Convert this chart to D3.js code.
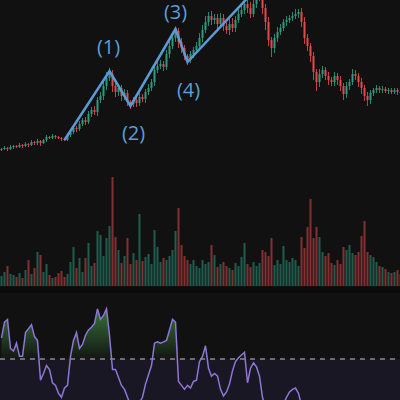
<!DOCTYPE html>
<html>
<head>
<meta charset="utf-8">
<script src="https://cdn.jsdelivr.net/npm/d3@7"></script>
<style>
  html, body { margin: 0; padding: 0; background: #121212; }
  #chart { width: 400px; height: 400px; }
</style>
</head>
<body>
<div id="chart"></div>
<script>
// closing prices, one per candle
const closes = [11,12,11,13,14,13,15,14,16,15, 18,17,19,17,20,23,22,24,23,22,
  21,20,25,28,32,31,36,40,38,46, 50,48,60,64,74,82,86,74,68,72,
  64,67,58,56,60,57,63,61,68,72, 78,90,94,96,93,106,114,122,129,118,
  112,104,100,106,110,114,122,130,138,144, 140,142,136,142,134,130,136,132,140,146,
  150,156,152,146,156,162,164,152,138,120, 112,122,128,132,138,140,142,144,146,148,
  138,122,114,104,88,78,86,90,84,80, 78,84,80,74,66,74,78,86,84,78,
  72,64,60,67,70,72,70,71,69,70, 68,70,68,67];

// upper / lower wick lengths
const wickUp = [1,2,1,2,1,1,2,1,2,1, 2,1,2,1,1,2,1,2,1,1, 1,1,2,2,3,2,3,2,3,3,
  3,4,3,4,5,6,6,4,3,4, 3,4,3,2,3,3,4,3,3,4, 3,5,4,4,3,4,5,6,4,3,
  4,3,2,3,3,4,5,5,6,4, 5,4,4,5,4,4,5,6,4,5, 6,4,5,6,5,3,4,3,4,5,
  3,4,5,4,3,4,3,4,5,3, 4,5,4,3,4,3,5,4,3,4, 3,4,3,4,3,4,3,5,4,3,
  4,3,4,3,2,3,2,3,2,2, 2,2,2,2];
const wickDn = [1,1,2,1,2,1,1,2,1,2, 1,2,2,3,1,2,1,1,2,1, 2,1,1,2,2,3,2,2,3,2,
  3,3,4,3,4,4,3,6,5,4, 5,4,4,5,3,4,3,3,4,3, 3,4,3,3,4,3,4,3,4,6,
  5,4,5,3,4,3,3,4,3,4, 5,4,5,4,5,4,5,4,4,3, 3,4,5,4,3,4,3,6,8,6,
  9,5,4,3,3,4,3,3,3,4, 5,6,5,6,8,9,5,4,4,5, 4,4,5,5,6,4,4,3,4,5,
  6,5,6,4,3,3,3,3,2,3, 2,2,3,2];

const volumes = [10,14,20,12,11,9,13,8,16,26, 12,18,34,31,14,22,11,8,9,13,
  15,9,12,24,39,18,28,14,28,43, 20,23,55,51,30,48,60,109,49,36,
  23,30,48,22,33,26,72,25,29,32, 22,56,39,24,28,26,30,36,55,78,
  41,30,26,22,26,20,18,26,22,24, 41,31,19,22,24,20,18,16,23,20,
  29,43,22,19,24,20,23,36,34,30, 48,21,26,22,40,26,24,28,26,20,
  49,38,59,87,48,59,49,34,30,33, 23,21,26,22,39,36,41,33,31,34,
  50,65,34,31,29,24,20,19,17,14, 13,14,16,12];

const rsi = [66,78,80,58,56,62,52,52,70,73, 76,67,64,34,39,45,42,32,30,24,
  21,28,30,52,64,70,58,61,68,72, 74,77,88,80,83,88,68,42,42,36,
  30,27,21,15,15,16,17,21,31,38, 45,62,63,62,63,64,72,80,78,33,
  30,27,30,28,33,34,48,52,60,43, 37,39,37,27,22,25,31,41,48,51,
  53,55,32,43,47,44,37,21,12,10, 11,12,14,15,16,21,25,27,28,24,
  15,12,10,8,6,5,8,10,12,14, 13,15,16,14,12,10,12,14,15,14,
  13,12,11,10,11,12,13,12,13,14, 13,12,13,14];
const rsiMid = 50;

// elliott wave pivots: candle index and price
const wavePoints = [
  {i: 21, p: 20, label: null},
  {i: 36, p: 89, label: "(1)"},
  {i: 43, p: 54, label: "(2)"},
  {i: 58, p: 131, label: "(3)"},
  {i: 62, p: 98, label: "(4)"},
  {i: 82, p: 162, label: null}
];

class WaveChartD3 {
    width = 400;
    height = 400;
    up = "#2a9d80";
    down = "#e4494c";

    constructor(el) {
        this.el = el;
    }

    create() {
        this.svg = d3.select(this.el).append("svg")
            .attr("width", this.width)
            .attr("height", this.height);

        this.svg.append("rect")
            .attr("width", this.width).attr("height", this.height)
            .attr("fill", "#111111");

        this.x = d3.scaleLinear().domain([-0.5, closes.length - 0.5]).range([0, closes.length * 3]);
        this.yPrice = d3.scaleLinear().domain([0, 160]).range([160, 0]);
        this.yVol = d3.scaleLinear().domain([0, 120]).range([286, 166]);
        this.yRsi = d3.scaleLinear().domain([0, 100]).range([425, 293]);
    }

    render() {
        const candles = closes.map((c, i) => {
            const o = i === 0 ? c - 1 : closes[i - 1];
            return {
                i: i, o: o, c: c,
                h: Math.max(o, c) + wickUp[i],
                l: Math.min(o, c) - wickDn[i],
                v: volumes[i],
                r: rsi[i]
            };
        });
        const col = d => d.c >= d.o ? this.up : this.down;

        // volume panel
        this.svg.append("rect")
            .attr("x", 0).attr("y", 287).attr("width", 400).attr("height", 6)
            .attr("fill", "#0b0b0b");

        this.svg.append("g").selectAll("rect")
            .data(candles)
            .join("rect")
            .attr("x", d => this.x(d.i) - 1)
            .attr("width", 2)
            .attr("y", d => this.yVol(d.v))
            .attr("height", d => this.yVol(0) - this.yVol(d.v))
            .attr("fill", col)
            .attr("opacity", 0.55);

        // candles
        const cg = this.svg.append("g").selectAll("g")
            .data(candles)
            .join("g");

        cg.append("line")
            .attr("x1", d => this.x(d.i)).attr("x2", d => this.x(d.i))
            .attr("y1", d => this.yPrice(d.h)).attr("y2", d => this.yPrice(d.l))
            .attr("stroke", col)
            .attr("stroke-width", 1)
            .attr("opacity", 0.85);

        cg.append("rect")
            .attr("x", d => this.x(d.i) - 1)
            .attr("width", 2)
            .attr("y", d => this.yPrice(Math.max(d.o, d.c)))
            .attr("height", d => Math.max(1, Math.abs(this.yPrice(d.o) - this.yPrice(d.c))))
            .attr("fill", col);

        // wave lines + labels
        const waveLine = d3.line()
            .x(d => this.x(d.i))
            .y(d => this.yPrice(d.p));

        this.svg.append("path")
            .datum(wavePoints)
            .attr("d", waveLine)
            .attr("fill", "none")
            .attr("stroke", "#5b9bd5")
            .attr("stroke-width", 2.5)
            .attr("stroke-linejoin", "miter");

        const labelOffset = {"(1)": -17, "(2)": 34, "(3)": -10, "(4)": 35};
        const labelShift = {"(1)": -1, "(2)": 3, "(3)": 0, "(4)": 1};
        this.svg.append("g").selectAll("text")
            .data(wavePoints.filter(d => d.label))
            .join("text")
            .attr("x", d => this.x(d.i) + labelShift[d.label])
            .attr("y", d => this.yPrice(d.p) + labelOffset[d.label])
            .attr("text-anchor", "middle")
            .attr("font-family", "'Open Sans', sans-serif")
            .attr("font-size", 20)
            .attr("fill", "#5d9ed8")
            .text(d => d.label);

        // RSI panel
        const mid = this.yRsi(rsiMid);
        this.svg.append("rect")
            .attr("x", 0).attr("y", mid).attr("width", 400).attr("height", 400 - mid)
            .attr("fill", "#1a1724");

        const grad = this.svg.append("defs").append("linearGradient")
            .attr("id", "rsiGreen")
            .attr("gradientUnits", "userSpaceOnUse")
            .attr("x1", 0).attr("x2", 0)
            .attr("y1", this.yRsi(90)).attr("y2", mid);
        grad.append("stop").attr("offset", 0).attr("stop-color", "#4caf50").attr("stop-opacity", 0.65);
        grad.append("stop").attr("offset", 1).attr("stop-color", "#4caf50").attr("stop-opacity", 0.03);

        const rsiArea = d3.area()
            .x(d => this.x(d.i))
            .y0(mid)
            .y1(d => this.yRsi(Math.max(d.r, rsiMid)));

        this.svg.append("path")
            .datum(candles)
            .attr("d", rsiArea)
            .attr("fill", "url(#rsiGreen)");

        this.svg.append("line")
            .attr("x1", 0).attr("x2", 400)
            .attr("y1", mid).attr("y2", mid)
            .attr("stroke", "#8c8c8c")
            .attr("stroke-width", 1.5)
            .attr("stroke-dasharray", "5,5");

        const rsiLine = d3.line()
            .x(d => this.x(d.i))
            .y(d => this.yRsi(d.r));

        this.svg.append("path")
            .datum(candles)
            .attr("d", rsiLine)
            .attr("fill", "none")
            .attr("stroke", "#8e75d8")
            .attr("stroke-width", 1.5);
    }
}

const chart = new WaveChartD3(document.getElementById("chart"));
chart.create();
chart.render();
</script>
</body>
</html>
